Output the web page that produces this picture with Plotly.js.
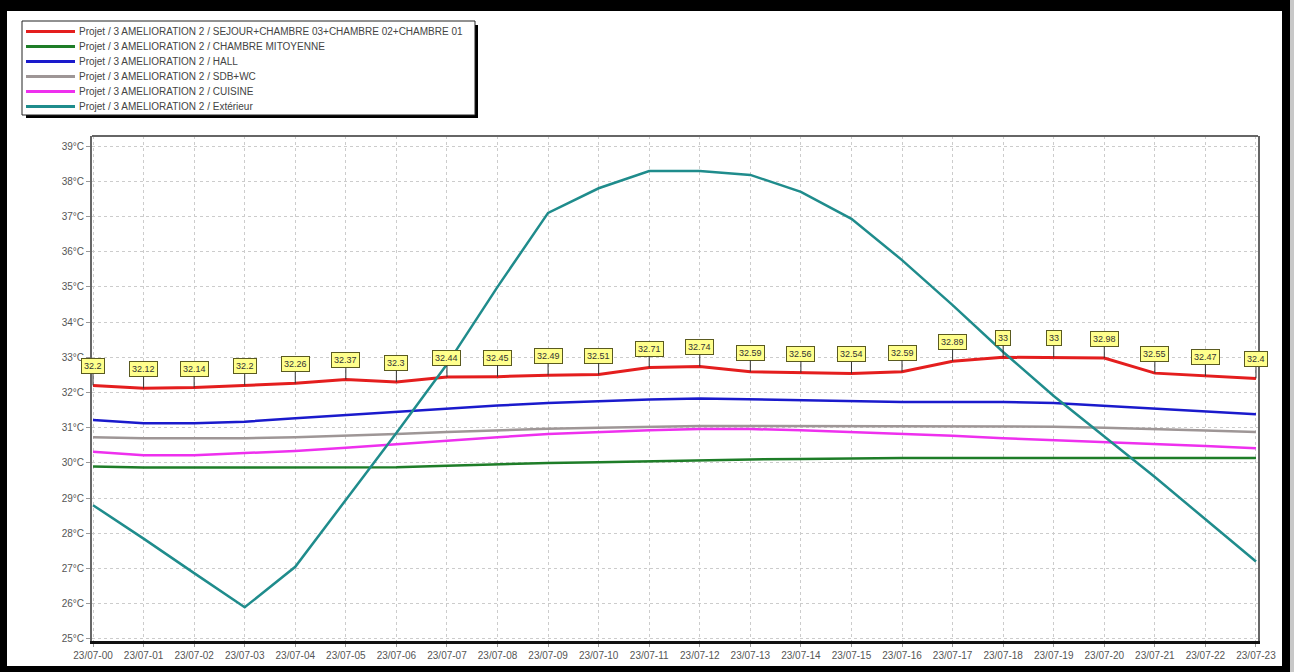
<!DOCTYPE html>
<html>
<head>
<meta charset="utf-8">
<script src="https://cdn.plot.ly/plotly-3.0.1.min.js"></script>
<style>html,body{margin:0;padding:0;background:#fff;}#chart{width:1294px;height:672px;}</style>
</head>
<body>
<div id="chart"></div>
<script>
const categories = ['23/07-00','23/07-01','23/07-02','23/07-03','23/07-04','23/07-05','23/07-06','23/07-07','23/07-08','23/07-09','23/07-10','23/07-11','23/07-12','23/07-13','23/07-14','23/07-15','23/07-16','23/07-17','23/07-18','23/07-19','23/07-20','23/07-21','23/07-22','23/07-23'];
const seriesNames = [
  'Projet / 3 AMELIORATION 2 / SEJOUR+CHAMBRE 03+CHAMBRE 02+CHAMBRE 01',
  'Projet / 3 AMELIORATION 2 / CHAMBRE MITOYENNE',
  'Projet / 3 AMELIORATION 2 / HALL',
  'Projet / 3 AMELIORATION 2 / SDB+WC',
  'Projet / 3 AMELIORATION 2 / CUISINE',
  'Projet / 3 AMELIORATION 2 / Extérieur'
];
const sejour = [32.2,32.12,32.14,32.2,32.26,32.37,32.3,32.44,32.45,32.49,32.51,32.71,32.74,32.59,32.56,32.54,32.59,32.89,33,33,32.98,32.55,32.47,32.4];
const mitoyenne = [29.9,29.87,29.87,29.87,29.87,29.87,29.88,29.92,29.97,30.0,30.02,30.05,30.08,30.1,30.11,30.13,30.14,30.14,30.14,30.14,30.14,30.14,30.14,30.14];
const hall = [31.22,31.13,31.13,31.17,31.27,31.36,31.45,31.55,31.63,31.7,31.76,31.8,31.83,31.8,31.78,31.75,31.73,31.73,31.73,31.7,31.62,31.53,31.44,31.38];
const sdbwc = [30.73,30.7,30.7,30.7,30.73,30.77,30.82,30.88,30.93,30.97,31.0,31.03,31.05,31.05,31.05,31.05,31.05,31.05,31.05,31.03,31.0,30.97,30.92,30.88];
const cuisine = [30.32,30.22,30.22,30.27,30.34,30.43,30.53,30.65,30.73,30.82,30.88,30.93,30.96,30.96,30.93,30.88,30.82,30.77,30.7,30.65,30.6,30.53,30.48,30.42];
const exterieur = [28.8,27.85,26.87,25.9,27.05,28.95,30.85,32.8,35.0,37.1,37.8,38.29,38.29,38.18,37.7,36.93,35.76,34.48,33.15,31.9,30.75,29.6,28.4,27.2];

const colors = ['#e41e1e','#1e7d28','#1a1acc','#9e9696','#ee30ee','#1f8c8c'];
const widths = [3,2.5,2.5,2.5,2.5,2.5];
const allSeries = [sejour, mitoyenne, hall, sdbwc, cuisine, exterieur];

const traces = allSeries.map((ys, k) => ({
  type: 'scatter', mode: 'lines', name: seriesNames[k],
  x: categories, y: ys,
  line: {color: colors[k], width: widths[k]},
  hoverinfo: 'x+y+name'
}));

// plot area in pixels
const L = 92, R = 1258, T = 136, B = 641;
const W = R - L, H = B - T;
const px = x => (x - L) / W;
const py = y => (B - y) / H;

const shapes = [];
const annotations = [];
const FONT = 'Liberation Sans, Arial, sans-serif';

// value labels on the first series
sejour.forEach((v, i) => {
  annotations.push({
    x: categories[i], y: v, xref: 'x', yref: 'y',
    text: String(v), showarrow: true, arrowhead: 0, arrowwidth: 1, arrowcolor: '#333',
    ax: 0, ay: -19, standoff: 0,
    bgcolor: '#ffff8c', bordercolor: '#5a5a20', borderwidth: 1, borderpad: 2,
    font: {family: FONT, size: 9, color: '#333'}
  });
});

// top border of plot
shapes.push({type: 'line', xref: 'paper', yref: 'paper', x0: 0, x1: 1, y0: 1, y1: 1, line: {color: '#666', width: 2}});

// legend box (manual)
const lgL = 22, lgT = 21, lgR = 475, lgB = 115;
shapes.push({type: 'rect', xref: 'paper', yref: 'paper', x0: px(lgL + 4), x1: px(lgR + 3), y0: py(lgT + 4), y1: py(lgB + 3), fillcolor: '#000', line: {width: 0}});
shapes.push({type: 'rect', xref: 'paper', yref: 'paper', x0: px(lgL), x1: px(lgR), y0: py(lgT), y1: py(lgB), fillcolor: '#fff', line: {color: '#222', width: 1}});
seriesNames.forEach((nm, k) => {
  const yy = 31.5 + 15 * k;
  shapes.push({type: 'line', xref: 'paper', yref: 'paper', x0: px(26), x1: px(75), y0: py(yy), y1: py(yy), line: {color: colors[k], width: 3}});
  annotations.push({
    xref: 'paper', yref: 'paper', x: px(77), y: py(yy), xanchor: 'left', yanchor: 'middle',
    text: nm, showarrow: false,
    font: {family: FONT, size: 10, color: '#444'}
  });
});

// black outer frame of the picture
const frame = (x0, y0, x1, y1, c) => shapes.push({type: 'rect', xref: 'paper', yref: 'paper', x0: px(x0), x1: px(x1), y0: py(y0), y1: py(y1), fillcolor: c, line: {width: 0}, layer: 'above'});
frame(0, 0, 1290, 11, '#000');
frame(0, 0, 7, 672, '#000');
frame(1282, 0, 1290, 672, '#000');
frame(0, 666, 1290, 672, '#000');
frame(1290, 0, 1294, 672, '#c8c8c8');

const layout = {
  width: 1294, height: 672,
  margin: {l: L, r: 1294 - R, t: T, b: 672 - B, pad: 0},
  paper_bgcolor: '#fff', plot_bgcolor: '#fff',
  showlegend: false,
  font: {family: FONT, size: 10, color: '#555'},
  xaxis: {
    type: 'category', range: [-0.02, 23.04], autorange: false,
    showgrid: true, gridcolor: '#cccccc', griddash: 'dot', gridwidth: 1,
    showline: true, linecolor: '#111', linewidth: 3, mirror: false,
    ticks: 'outside', ticklen: 3, tickcolor: '#999',
    tickfont: {family: FONT, size: 10, color: '#555'}, zeroline: false
  },
  yaxis: {
    range: [24.943, 39.284], autorange: false, dtick: 1, tick0: 25,
    ticksuffix: '°C',
    showgrid: true, gridcolor: '#cccccc', griddash: 'dot', gridwidth: 1,
    showline: true, linecolor: '#666', linewidth: 2, mirror: true,
    ticks: 'outside', ticklen: 4, tickcolor: '#999',
    tickfont: {family: FONT, size: 10, color: '#555'}, zeroline: false
  },
  shapes: shapes,
  annotations: annotations
};

Plotly.newPlot('chart', traces, layout, {displayModeBar: false, staticPlot: true});
</script>
</body>
</html>
